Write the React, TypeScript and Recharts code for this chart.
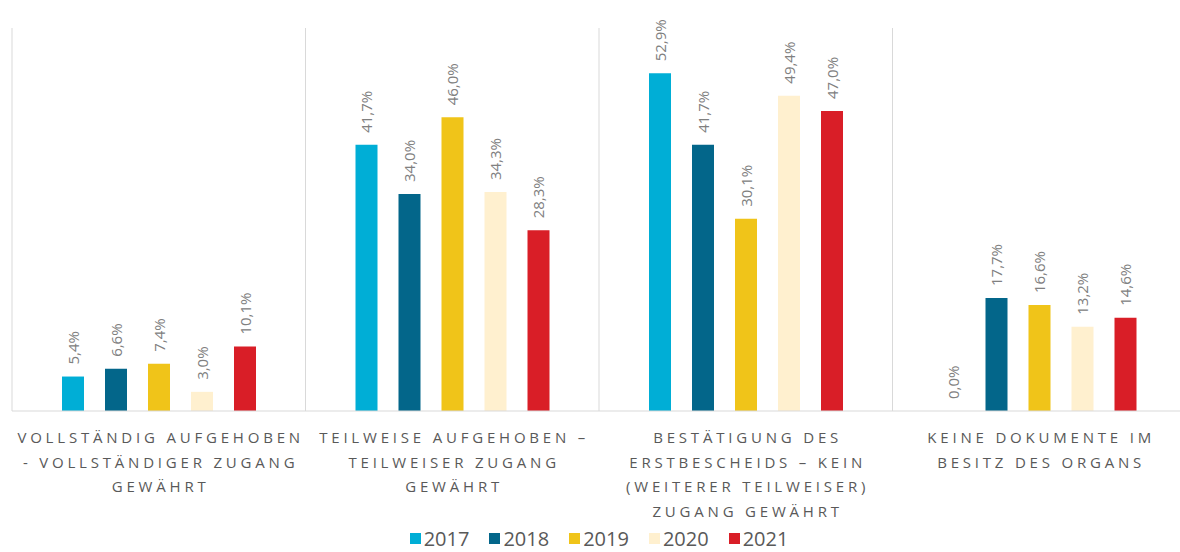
import React from "react";
import { BarChart, Bar, XAxis, YAxis, Legend, LabelList, CartesianGrid } from "recharts";

const categories = [
  "Vollständig aufgehoben - vollständiger Zugang gewährt",
  "Teilweise aufgehoben – teilweiser Zugang gewährt",
  "Bestätigung des Erstbescheids – kein (weiterer teilweiser) Zugang gewährt",
  "Keine Dokumente im Besitz des Organs",
];
const categoryLines = [
  ["VOLLSTÄNDIG AUFGEHOBEN", "- VOLLSTÄNDIGER ZUGANG", "GEWÄHRT"],
  ["TEILWEISE AUFGEHOBEN –", "TEILWEISER ZUGANG", "GEWÄHRT"],
  ["BESTÄTIGUNG DES", "ERSTBESCHEIDS – KEIN", "(WEITERER TEILWEISER)", "ZUGANG GEWÄHRT"],
  ["KEINE DOKUMENTE IM", "BESITZ DES ORGANS"],
];
const years = ["2017", "2018", "2019", "2020", "2021"];
const v2017 = [5.4, 41.7, 52.9, 0.0];
const v2018 = [6.6, 34.0, 41.7, 17.7];
const v2019 = [7.4, 46.0, 30.1, 16.6];
const v2020 = [3.0, 34.3, 49.4, 13.2];
const v2021 = [10.1, 28.3, 47.0, 14.6];
const seriesValues = [v2017, v2018, v2019, v2020, v2021];
const colors = ["#00AED6", "#03668A", "#F0C419", "#FFF0CF", "#D91E27"];

const data = categories.map((c, i) => {
  const row: any = { name: c, idx: i };
  years.forEach((y, k) => (row[y] = seriesValues[k][i]));
  return row;
});

const FONT = "'Open Sans', 'Noto Sans', sans-serif";

const fmt = (v: number) => Number(v).toFixed(1).replace(".", ",") + "%";

// vertical separators at the category band boundaries of the plot area
const bandBoundaries = (args: any) => {
  const off = args && args.offset;
  const n = categories.length;
  try {
    const s = args && args.xAxis && args.xAxis.scale;
    if (typeof s === "function" && typeof s.bandwidth === "function") {
      const starts = categories.map((c) => s(c));
      return [...starts, starts[n - 1] + s.bandwidth()];
    }
  } catch (e) {
    /* fall through */
  }
  return Array.from({ length: n + 1 }, (_, i) => off.left + (i * off.width) / n);
};

const ValueLabel = (props: any) => {
  const { x, y, width, height, value } = props;
  if (value === undefined || value === null) return null;
  const cx = Number(x) + Number(width) / 2;
  const top = Math.min(Number(y), Number(y) + Number(height || 0));
  const ty = top - 12;
  return (
    <text
      x={cx}
      y={ty}
      transform={`rotate(-90, ${cx}, ${ty})`}
      textAnchor="start"
      dominantBaseline="central"
      fontSize={15}
      fontFamily={FONT}
      fill="#808080"
    >
      {fmt(value)}
    </text>
  );
};

const CategoryTick = (props: any) => {
  const { x, y, payload } = props;
  const lines = categoryLines[payload.index] || [];
  return (
    <text
      x={x}
      y={y}
      textAnchor="middle"
      fontSize={15}
      fontFamily={FONT}
      fill="#595959"
      letterSpacing={3.8}
    >
      {lines.map((l, i) => (
        <tspan key={i} x={x + 1.9} y={y + 32 + i * 24.5}>
          {l}
        </tspan>
      ))}
    </text>
  );
};

const LegendContent = () => (
  <div
    style={{
      display: "flex",
      justifyContent: "center",
      alignItems: "center",
      fontFamily: FONT,
      fontSize: 20,
      color: "#595959",
      lineHeight: "27px",
    }}
  >
    {years.map((y, k) => (
      <div key={y} style={{ display: "flex", alignItems: "center", marginRight: k < years.length - 1 ? 20 : 0 }}>
        <span style={{ display: "inline-block", width: 11, height: 11, background: colors[k], marginRight: 3 }} />
        <span>{y}</span>
      </div>
    ))}
  </div>
);

export default function App() {
  return (
    <div style={{ position: "absolute", left: 0, top: 0, width: 1180, height: 552, overflow: "hidden", background: "#fff" }}>
      <BarChart
        width={1200}
        height={552}
        data={data}
        margin={{ top: 28, right: 14, left: 12, bottom: 0 }}
        barGap={21}
        barSize={22}
      >
        <CartesianGrid horizontal={false} stroke="#D9D9D9" verticalCoordinatesGenerator={bandBoundaries} />
        <XAxis
          dataKey="name"
          interval={0}
          tickLine={false}
          tickSize={0}
          tickMargin={0}
          axisLine={{ stroke: "#D9D9D9" }}
          tick={<CategoryTick />}
          height={114}
        />
        <YAxis hide domain={[0, 60]} />
        <Legend verticalAlign="bottom" height={27} content={<LegendContent />} />
        {years.map((y, k) => (
          <Bar key={y} dataKey={y} fill={colors[k]} isAnimationActive={false} minPointSize={0.01}>
            <LabelList dataKey={y} content={<ValueLabel />} />
          </Bar>
        ))}
      </BarChart>
    </div>
  );
}
